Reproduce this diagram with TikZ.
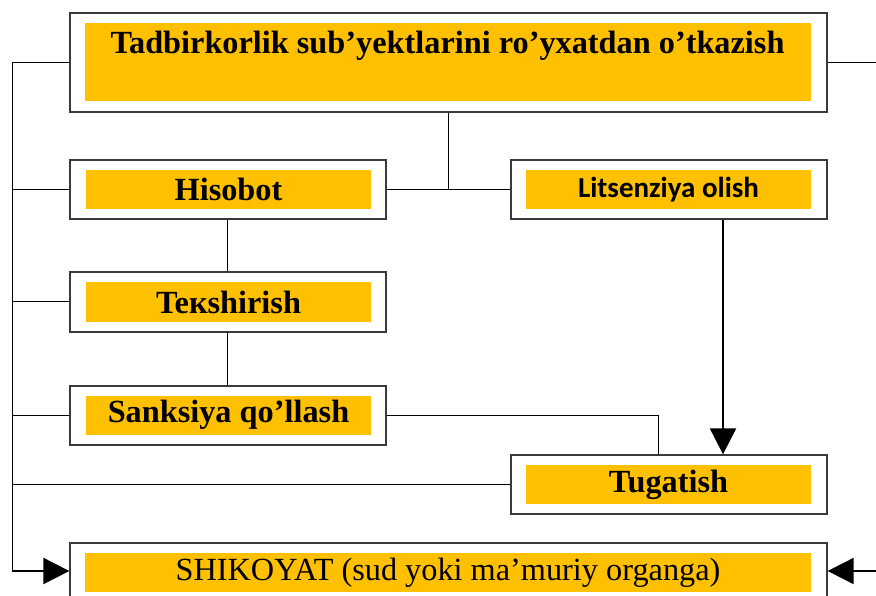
\documentclass[tikz,border=0pt]{standalone}
\usepackage{fontspec}
\setmainfont{Liberation Serif}
\newfontfamily\calfont{Carlito}
\usetikzlibrary{arrows.meta,calc}
\definecolor{boxyellow}{HTML}{FFC000}
\definecolor{boxgray}{HTML}{3A3A3A}
\begin{document}
\begin{tikzpicture}[x=1pt,y=-1pt,
  outerbox/.style={draw=boxgray,line width=1.3pt,fill=white,inner sep=0pt,minimum width=316pt,minimum height=59pt},
  innerbox/.style={fill=boxyellow,inner sep=0pt,minimum width=285pt,minimum height=39pt,font=\fontsize{32.3}{37}\selectfont\bfseries},
  thinline/.style={line width=1pt,black},
  thickarrow/.style={line width=2pt,black,-{Triangle[length=26pt,width=26pt]}}
]
\useasboundingbox (0,0) rectangle (876,596);
% boxes
\node[outerbox,minimum width=757pt,minimum height=99pt] (top) at (448.5,62.5) {};
\node[innerbox,minimum width=726pt,minimum height=78pt] (topin) at (448,62) {};
\node[anchor=base,inner sep=0pt,font=\fontsize{32.3}{37}\selectfont\bfseries] (toptext) at (447.5,53.5) {Tadbirkorlik sub’yektlarini ro’yxatdan o’tkazish};

\node[outerbox] (his) at (228,189.5) {};
\node[innerbox] (hisin) at (228.5,189.5) {Hisobot};

\node[outerbox] (lit) at (669,189.5) {};
\node[innerbox,font=\calfont\fontsize{29}{34}\selectfont\bfseries] (litin) at (668.5,189.5) {Litsenziya olish};

\node[outerbox,minimum height=60pt] (tek) at (228,302) {};
\node[innerbox] (tekin) at (228.5,302) {Teкshirish};

\node[outerbox] (san) at (228,415.5) {};
\node[innerbox] (sanin) at (228.5,415) {Sanksiya qo’llash};

\node[outerbox] (tug) at (669,484.5) {};
\node[innerbox] (tugin) at (668.5,484.5) {Tugatish};

\node[outerbox,minimum width=757pt,minimum height=70pt] (shik) at (448.5,578) {};
\node[innerbox,minimum width=726pt,font=\fontsize{32.3}{37}\selectfont] (shikin) at (448,572.5) {SHIKOYAT (sud yoki ma’muriy organga)};

% left bus
\coordinate (Ltop) at (12,63);
\coordinate (Lbot) at (12,571);
\draw[thinline] (top.west |- Ltop) -- (Ltop) -- (Lbot);
\draw[thinline] (his.west) -- (his.west -| Ltop);
\draw[thinline] (tek.west) -- (tek.west -| Ltop);
\draw[thinline] (san.west) -- (san.west -| Ltop);
\draw[thinline] (tug.west) -- (tug.west -| Ltop);
\draw[thickarrow] (Lbot) -- (Lbot -| shik.west);

% right stubs
\coordinate (Rtop) at (876,63);
\coordinate (Rbot) at (876,571);
\draw[thinline] (top.east |- Rtop) -- (Rtop);
\draw[thickarrow] (Rbot) -- (Rbot -| shik.east);

% inner connectors
\draw[thinline] ([xshift=-0.5pt]top.south) -- ([xshift=-0.5pt]top.south |- his.east);
\draw[thinline] (his.east) -- (lit.west);
\draw[thinline] ([xshift=-1pt]his.south) -- ([xshift=-1pt]tek.north);
\draw[thinline] ([xshift=-1pt]tek.south) -- ([xshift=-1pt]san.north);
\draw[thinline] (san.east) -| ([xshift=-11pt]tug.north);
\draw[thickarrow] ([xshift=54pt]lit.south) -- ([xshift=54pt]tug.north);
\end{tikzpicture}
\end{document}
